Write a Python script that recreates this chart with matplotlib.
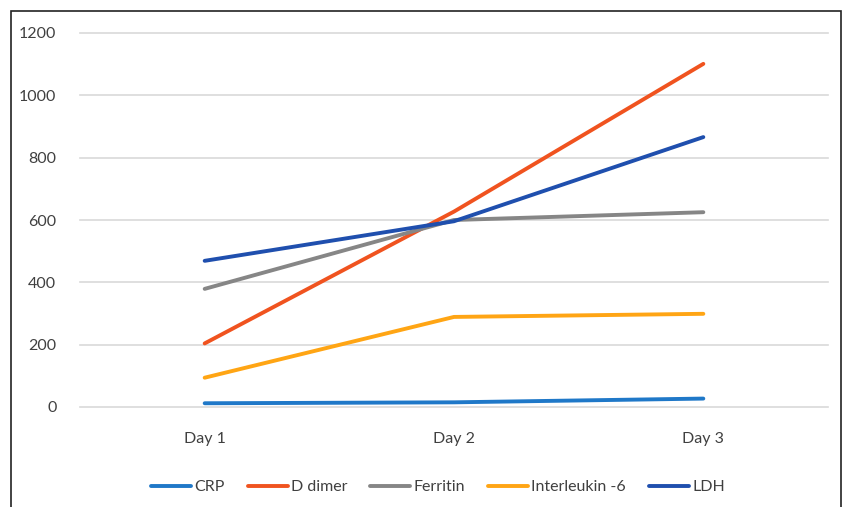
import matplotlib.pyplot as plt
from matplotlib.patches import Rectangle

# values
days = ['Day 1', 'Day 2', 'Day 3']
crp = [12, 15, 27]
d_dimer = [204, 627, 1101]
ferritin = [379, 600, 625]
interleukin6 = [94, 289, 299]
ldh = [469, 596, 866]

series = [('CRP', crp, '#1f78c8'),
          ('D dimer', d_dimer, '#f0531f'),
          ('Ferritin', ferritin, '#868686'),
          ('Interleukin -6', interleukin6, '#ffa514'),
          ('LDH', ldh, '#1f4fae')]

plt.rcParams['font.family'] = ['Lato', 'DejaVu Sans']

fig = plt.figure(figsize=(8.42, 5.07), dpi=100)
ax = fig.add_axes([80 / 842, 1 - 407 / 507, 748 / 842, 374 / 507])

x = list(range(len(days)))
for name, vals, color in series:
    ax.plot(x, vals, color=color, lw=2.8, label=name, solid_capstyle='round')

ax.set_xlim(-0.5, 2.5)
ax.set_ylim(0, 1200)
ax.set_yticks(range(0, 1201, 200))
ax.set_xticks(x)
ax.set_xticklabels(days)
ax.grid(axis='y', color='#d9d9d9', lw=1.2, clip_on=False)
ax.set_axisbelow(True)
for s in ax.spines.values():
    s.set_visible(False)
ax.tick_params(length=0, labelsize=11.5, labelcolor='#404040')
ax.tick_params(axis='y', pad=17)
ax.tick_params(axis='x', pad=18)

ax.legend(loc='center', bbox_to_anchor=(438 / 842, 1 - 487 / 507),
          bbox_transform=fig.transFigure, ncol=5, frameon=False,
          fontsize=11.5, handlelength=2.5, columnspacing=1.45,
          handletextpad=0.2, labelcolor='#404040')

# outer frame
fig.patches.append(Rectangle((11 / 842, -0.01), 830 / 842, 1 - 11 / 507 + 0.01,
                             transform=fig.transFigure, fill=False,
                             edgecolor='#222222', lw=1.2))

fig.savefig('out.png', dpi=100)
